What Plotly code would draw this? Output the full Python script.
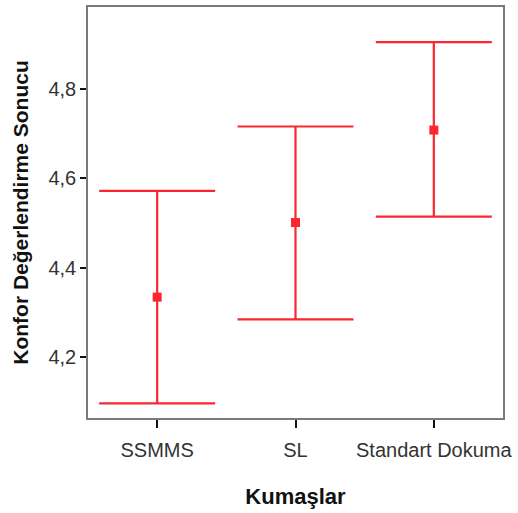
import plotly.graph_objects as go

categories = ["SSMMS", "SL", "Standart Dokuma"]
means = [4.334, 4.501, 4.708]
upper = [4.572, 4.716, 4.905]
lower = [4.096, 4.284, 4.514]
y_ticks = [4.2, 4.4, 4.6, 4.8]
y_tick_labels = ["4,2", "4,4", "4,6", "4,8"]

red = "#fb2630"
err_plus = [u - m for u, m in zip(upper, means)]
err_minus = [m - l for m, l in zip(means, lower)]

fig = go.Figure()
fig.add_trace(go.Scatter(
    x=[0, 1, 2], y=means, mode="markers",
    marker=dict(symbol="square", size=9, color=red),
    error_y=dict(type="data", symmetric=False, array=err_plus, arrayminus=err_minus,
                 color=red, thickness=2.2, width=58),
    showlegend=False,
))

fig.update_layout(
    width=518, height=513,
    margin=dict(l=88, r=15, t=7, b=95),
    paper_bgcolor="white", plot_bgcolor="white",
    separators=",.",
    font=dict(family="Liberation Sans, Arial, sans-serif", color="#333333", size=20),
    xaxis=dict(
        range=[-0.5, 2.5], tickmode="array", tickvals=[0, 1, 2], ticktext=categories,
        showgrid=False, zeroline=False, showline=True, linecolor="#7a7a7a", linewidth=1.5,
        mirror=True, ticks="outside", ticklen=8, tickwidth=2, tickcolor="#111111",
        tickfont=dict(size=20, color="#333333"), ticklabelstandoff=5,
        title=dict(text="<b>Kumaşlar</b>", font=dict(size=22, color="#111111"), standoff=29),
        automargin=False,
    ),
    yaxis=dict(
        range=[4.0634, 4.9835], tickmode="array", tickvals=y_ticks, ticktext=y_tick_labels,
        showgrid=False, zeroline=False, showline=True, linecolor="#7a7a7a", linewidth=1.5,
        mirror=True, ticks="outside", ticklen=6, tickwidth=2, tickcolor="#111111",
        tickfont=dict(size=20, color="#333333"),
        title=dict(text="<b>Konfor Değerlendirme Sonucu</b>", font=dict(size=21, color="#111111"), standoff=14),
        automargin=False,
    ),
)

fig.write_html("out.html", config={"displayModeBar": False},
               post_script="document.body.style.margin='0px';document.body.style.padding='0px';")
